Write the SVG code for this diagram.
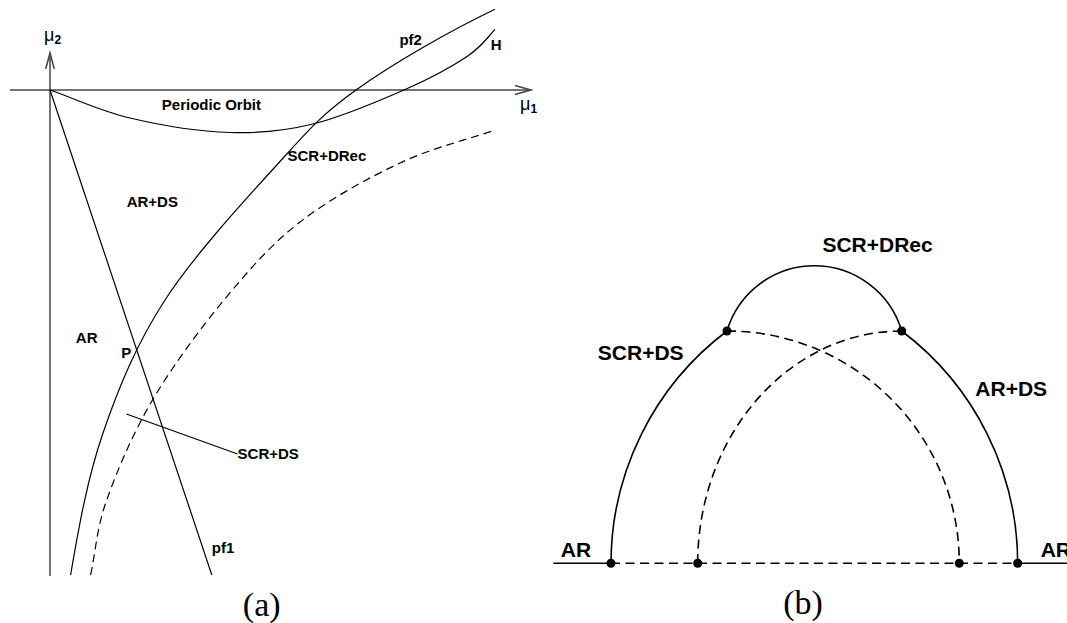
<svg xmlns="http://www.w3.org/2000/svg" width="1067" height="623" viewBox="0 0 1067 623">
<style>
.lbl{font-family:"Liberation Sans",Arial,sans-serif;font-weight:bold;fill:#000}
.a{font-size:15px}
.b{font-size:21px}
.cap{font-family:"Liberation Serif","Times New Roman",serif;font-size:34px;fill:#000}
.ln{fill:none;stroke:#000;stroke-width:1.2}
.dsh{fill:none;stroke:#000;stroke-width:1.2;stroke-dasharray:8 5}
.lnb{fill:none;stroke:#000;stroke-width:1.6}
.dshb{fill:none;stroke:#000;stroke-width:1.6;stroke-dasharray:9 5.5}
.axis{fill:none;stroke:#444;stroke-width:1.5}
.dot{fill:#000}
.mu{font-family:"Liberation Sans",Arial,sans-serif;font-size:18px;fill:#000}
.sub{font-size:12px;font-weight:bold}
</style>
<rect width="1067" height="623" fill="#fff"/>
<g id="panel-a">
  <g id="axes">
    <line class="axis" x1="50" y1="576" x2="50" y2="53"/>
    <polyline class="axis" points="45.7,69 50,53 54.3,69"/>
    <line class="axis" x1="10" y1="90" x2="531" y2="90"/>
    <polyline class="axis" points="515,85.5 531,90 515,94.5"/>
    <text class="mu" x="44" y="41">μ<tspan class="sub" dy="3">2</tspan></text>
    <text class="mu" x="520" y="110">μ<tspan class="sub" dy="3">1</tspan></text>
  </g>
  <g id="curves-a">
    <path id="pf2" class="ln" d="M70.6,575 C78.6,528 87.3,478.8 103,433 C118.7,387.2 136.3,344.3 165,300 C193.7,255.7 243.2,202 275,167 C306.8,132 319.3,116.3 356,90 C392.7,63.7 449,31.3 495,9.3"/>
    <path id="H" class="ln" d="M50,90 C76.7,99.3 100,110.9 130,118 C160,125.1 199.5,131.5 230,132.5 C260.5,133.5 284,131.1 313,124 C342,116.9 378.4,101.2 404,90 C429.6,78.8 451.5,66.8 466.7,56.7 C481.9,46.6 485,40.3 495,29.3"/>
    <path id="dashed-a" class="dsh" d="M90.6,575 C96,550 96.4,529.2 106.7,500 C117,470.8 132.9,433.3 152.5,400 C172.1,366.7 199.4,329.7 224,300 C248.6,270.3 270.7,244.8 300,222 C329.3,199.2 367.5,178.3 400,163 C432.5,147.7 463.3,141 495,130"/>
    <line id="pf1" class="ln" x1="50" y1="90" x2="211.8" y2="575"/>
    <line id="leader" class="ln" x1="126.4" y1="414" x2="237.6" y2="454"/>
  </g>
  <g id="labels-a">
    <text class="lbl a" x="161.8" y="110">Periodic Orbit</text>
    <text class="lbl a" x="287.5" y="161.3">SCR+DRec</text>
    <text class="lbl a" x="126.7" y="206.7">AR+DS</text>
    <text class="lbl a" x="399.4" y="44.5">pf2</text>
    <text class="lbl a" x="490.7" y="50">H</text>
    <text class="lbl a" x="75.8" y="343.3">AR</text>
    <text class="lbl a" x="121.2" y="357.5">P</text>
    <text class="lbl a" x="237.6" y="459">SCR+DS</text>
    <text class="lbl a" x="211.8" y="553">pf1</text>
  </g>
  <text class="cap" x="261.7" y="615.5" text-anchor="middle">(a)</text>
</g>
<g id="panel-b">
  <g id="connectors-b">
    <line class="lnb" x1="553.4" y1="563.3" x2="611" y2="563.3"/>
    <line class="dshb" x1="611" y1="563.3" x2="1017.7" y2="563.3"/>
    <line class="lnb" x1="1017.7" y1="563.3" x2="1067" y2="563.3"/>
    <path class="lnb" d="M611,563.3 A291.5,291.5 0 0 1 727,331"/>
    <path class="lnb" d="M1017.7,563.3 A291.5,291.5 0 0 0 901.7,331"/>
    <path class="lnb" d="M727,331 A91.1,91.1 0 0 1 901.7,331"/>
    <path class="dshb" d="M727,331 A232.3,232.3 0 0 1 959.3,563.3"/>
    <path class="dshb" d="M901.7,331 A204,232.3 0 0 0 697.7,563.3"/>
  </g>
  <g id="dots">
    <circle class="dot" cx="611" cy="563.3" r="4.5"/>
    <circle class="dot" cx="697.7" cy="563.3" r="4.5"/>
    <circle class="dot" cx="959.3" cy="563.3" r="4.5"/>
    <circle class="dot" cx="1017.7" cy="563.3" r="4.5"/>
    <circle class="dot" cx="727" cy="331" r="4.5"/>
    <circle class="dot" cx="901.7" cy="331" r="4.5"/>
  </g>
  <g id="labels-b">
    <text class="lbl b" x="822.4" y="252.3">SCR+DRec</text>
    <text class="lbl b" x="597.8" y="360">SCR+DS</text>
    <text class="lbl b" x="975.3" y="396">AR+DS</text>
    <text class="lbl b" x="560.8" y="556.7">AR</text>
    <text class="lbl b" x="1040.7" y="556.7">AR</text>
  </g>
  <text class="cap" x="803" y="613.5" text-anchor="middle">(b)</text>
</g>
</svg>
